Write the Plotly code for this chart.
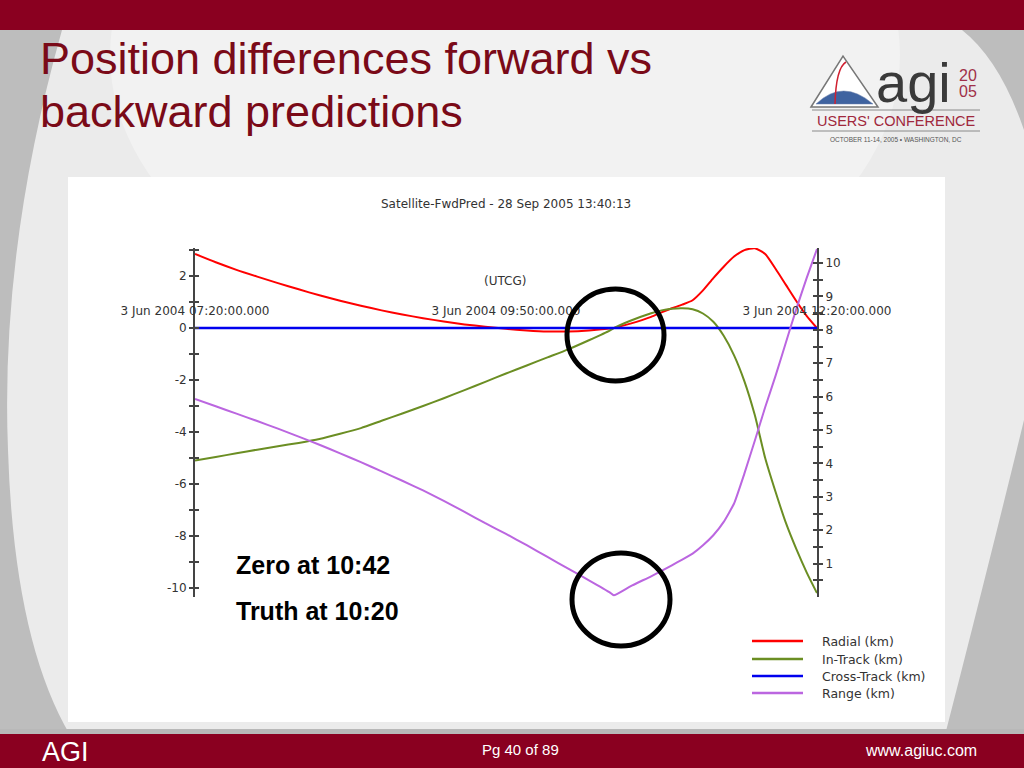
import plotly.graph_objects as go

# ---------------- data ----------------
times = ["2004-06-03 " + t for t in [
    "07:20", "07:30", "07:40", "07:50", "08:00", "08:10", "08:20", "08:30", "08:40", "08:50",
    "09:00", "09:10", "09:20", "09:30", "09:40", "09:50", "10:00", "10:10", "10:20", "10:30",
    "10:40", "10:42", "10:50", "11:00", "11:05", "11:10", "11:15", "11:20", "11:25", "11:30",
    "11:35", "11:40", "11:45", "11:50", "11:55", "12:00", "12:05", "12:10", "12:15", "12:20"]]

radial_km = [2.85, 2.53, 2.24, 1.98, 1.73, 1.49, 1.26, 1.05, 0.86, 0.68,
             0.52, 0.38, 0.25, 0.14, 0.05, -0.03, -0.09, -0.13, -0.13, -0.09,
             -0.02, 0.00, 0.17, 0.43, 0.60, 0.76, 0.90, 1.07, 1.45, 1.92,
             2.36, 2.75, 3.00, 3.07, 2.85, 2.28, 1.66, 1.04, 0.47, 0.00]

intrack_km = [-5.10, -4.96, -4.82, -4.68, -4.55, -4.42, -4.27, -4.07, -3.85, -3.57,
              -3.29, -3.00, -2.70, -2.39, -2.07, -1.75, -1.44, -1.13, -0.82, -0.47,
              -0.10, 0.00, 0.28, 0.57, 0.68, 0.74, 0.76, 0.72, 0.56, 0.24,
              -0.30, -1.05, -2.05, -3.35, -5.00, -6.30, -7.50, -8.50, -9.40, -10.20]

crosstrack_km = [0.0] * len(times)

range_km = [5.93, 5.71, 5.49, 5.27, 5.04, 4.80, 4.56, 4.30, 4.04, 3.76,
            3.48, 3.19, 2.88, 2.55, 2.21, 1.89, 1.55, 1.20, 0.85, 0.50,
            0.14, 0.05, 0.32, 0.62, 0.78, 0.95, 1.12, 1.30, 1.55, 1.85,
            2.25, 2.80, 3.70, 4.68, 5.68, 6.62, 7.62, 8.62, 9.55, 10.42]

series_names = ["Radial (km)", "In-Track (km)", "Cross-Track (km)", "Range (km)"]
series_colors = ["#ff0000", "#6b8e23", "#0000ee", "#bb66e0"]

x_tick_vals = ["2004-06-03 07:20", "2004-06-03 09:50", "2004-06-03 12:20"]
x_tick_text = ["3 Jun 2004 07:20:00.000", "3 Jun 2004 09:50:00.000", "3 Jun 2004 12:20:00.000"]
left_ticks = [-10, -8, -6, -4, -2, 0, 2]
left_tick_text = ["-10", "-8", "-6", "-4", "-2", "0", "2"]
right_ticks = [1, 2, 3, 4, 5, 6, 7, 8, 9, 10]

slide_title_lines = ["Position differences forward vs", "backward predictions"]
chart_title = "Satellite-FwdPred - 28 Sep 2005 13:40:13"

# ---------------- helpers (pixel -> paper) ----------------
W, H = 1024, 768
def X(px):
    return px / W
def Y(py):
    return 1 - py / H
def path(points, close=True):
    s = ""
    for p in points:
        cmd = p[0]
        coords = p[1:]
        s += cmd + " " + " ".join(
            f"{X(coords[j]):.5f},{Y(coords[j+1]):.5f}" for j in range(0, len(coords), 2)) + " "
    return s + ("Z" if close else "")

FONT = "Liberation Sans, Arial, sans-serif"
CFONT = "DejaVu Sans, Verdana, sans-serif"
NARROW = "Liberation Sans Narrow, Liberation Sans, Arial, sans-serif"
DARKRED = "#8a0020"
AXIS = "#444444"
TXT = "#333333"
CSIZE = 12

fig = go.Figure()
data_left = [radial_km, intrack_km, crosstrack_km]
for name, col, vals in zip(series_names[:3], series_colors[:3], data_left):
    fig.add_trace(go.Scatter(x=times, y=vals, name=name, mode="lines", showlegend=False,
                             line=dict(color=col, width=2.5 if name.startswith("Cross") else 2,
                                       shape="spline", smoothing=0.6),
                             yaxis="y"))
fig.add_trace(go.Scatter(x=times, y=range_km, name=series_names[3], mode="lines", showlegend=False,
                         line=dict(color=series_colors[3], width=2, shape="spline", smoothing=0.4),
                         yaxis="y2"))
# empty traces so the tick-overlay axes are rendered
fig.add_trace(go.Scatter(x=[], y=[], yaxis="y3", showlegend=False, hoverinfo="skip"))
fig.add_trace(go.Scatter(x=[], y=[], yaxis="y4", showlegend=False, hoverinfo="skip"))

P = dict(xref="paper", yref="paper")
shapes = []
# background
shapes.append(dict(type="path", layer="below", line_width=0, fillcolor="#ebebeb",
                   path=path([("M", 62, 30), ("Q", 0, 250, 8, 450), ("Q", 14, 640, 70, 735),
                              ("L", 945, 735), ("Q", 990, 560, 1024, 420), ("L", 1024, 130),
                              ("Q", 1000, 60, 962, 30)]), **P))
shapes.append(dict(type="circle", layer="below", line_width=0,
                   fillcolor="rgba(255,255,255,0.35)",
                   x0=X(110), x1=X(900), y0=Y(330), y1=Y(-220), **P))
# top and bottom bands
shapes.append(dict(type="rect", layer="below", line_width=0,
                   fillcolor=DARKRED, x0=0, x1=1, y0=Y(30), y1=1, **P))
shapes.append(dict(type="rect", layer="below", line_width=0,
                   fillcolor="#b8b8b8", x0=0, x1=1, y0=Y(735), y1=Y(729), **P))
shapes.append(dict(type="rect", layer="below", line_width=0,
                   fillcolor=DARKRED, x0=0, x1=1, y0=0, y1=Y(734), **P))
# white chart panel
shapes.append(dict(type="rect", layer="below", line_width=0,
                   fillcolor="#ffffff", x0=X(68), x1=X(945), y0=Y(722), y1=Y(177), **P))
# hand-drawn highlight circles
shapes.append(dict(type="circle", layer="above", line=dict(color="#000000", width=5),
                   x0=X(567), x1=X(664), y0=Y(381), y1=Y(289), **P))
shapes.append(dict(type="circle", layer="above", line=dict(color="#000000", width=5),
                   x0=X(572), x1=X(670), y0=Y(646), y1=Y(553), **P))
# logo graphics
shapes.append(dict(type="path", layer="above", line=dict(color="#777777", width=1.5),
                   fillcolor="#ffffff",
                   path=path([("M", 811, 107), ("L", 843, 56), ("L", 878, 107)]), **P))
shapes.append(dict(type="path", layer="above", line=dict(color="#6a7fa8", width=0.5),
                   fillcolor="#3f63a0",
                   path=path([("M", 816, 104), ("Q", 843, 78, 873, 104)]), **P))
shapes.append(dict(type="path", layer="above", line=dict(color="#d02030", width=1.5),
                   path=path([("M", 835, 104), ("Q", 836, 68, 846, 62)], close=False), **P))
shapes.append(dict(type="line", layer="above", line=dict(color="#8a8a8a", width=1),
                   x0=X(812), x1=X(980), y0=Y(110), y1=Y(110), **P))
shapes.append(dict(type="line", layer="above", line=dict(color="#8a8a8a", width=1),
                   x0=X(812), x1=X(980), y0=Y(131), y1=Y(131), **P))

def ann(text, x, y, size, color, family=FONT, xanchor="center", yanchor="middle", align="left"):
    return dict(text=text, x=X(x), y=Y(y), xanchor=xanchor, yanchor=yanchor, align=align,
                font=dict(family=family, size=size, color=color), showarrow=False, **P)

annotations = [
    ann(slide_title_lines[0], 38, 59, 45, "#7a0a18", xanchor="left"),
    ann(slide_title_lines[1], 38, 111, 45, "#7a0a18", xanchor="left"),
    ann(chart_title, 506, 204, CSIZE, TXT, family=CFONT),
    ann("(UTCG)", 505, 281, CSIZE, TXT, family=CFONT),
    ann("<b>Zero at 10:42</b>", 234, 565, 25, "#000000", xanchor="left"),
    ann("<b>Truth at 10:20</b>", 234, 611, 25, "#000000", xanchor="left"),
    ann("AGI", 40, 752, 27, "#ffffff", family=NARROW, xanchor="left"),
    ann("Pg 40 of 89", 520, 749, 15, "#ffffff", family=NARROW),
    ann("www.agiuc.com", 979, 750, 16, "#ffffff", family=NARROW, xanchor="right"),
    # logo texts
    ann("agi", 874, 82, 56, "#3a3a3a", xanchor="left"),
    ann("20", 968, 75, 16, "#a03048"),
    ann("05", 968, 92, 16, "#a03048"),
    ann("USERS' CONFERENCE", 896, 121, 14.5, "#a0283c"),
    ann("OCTOBER 11-14, 2005 \u2022 WASHINGTON, DC", 896, 140, 6.5, "#555555"),
]

# legend drawn as a key box (line sample + label per series)
legend_rows = [641, 659, 676, 693]
for name, col, ry in zip(series_names, series_colors, legend_rows):
    shapes.append(dict(type="line", layer="above", line=dict(color=col, width=2.5),
                       x0=X(752), x1=X(803), y0=Y(ry), y1=Y(ry), **P))
    annotations.append(ann(name, 820, ry, 12.5, TXT, family=CFONT, xanchor="left"))

ydom = [Y(597), Y(248)]
left_range = [-10.35, 3.08]
right_range = [0, 10.45]
tickfont = dict(family=CFONT, size=CSIZE, color=TXT)

common = dict(showgrid=False, zeroline=False, automargin=False, fixedrange=True)

fig.update_layout(
    width=W, height=H, margin=dict(l=0, r=0, t=0, b=0, pad=0, autoexpand=False),
    paper_bgcolor="#bdbdbd", plot_bgcolor="rgba(0,0,0,0)",
    shapes=shapes, annotations=annotations,
    showlegend=False,
    xaxis=dict(type="date", domain=[X(195), X(817)],
               range=["2004-06-03 07:20", "2004-06-03 12:20"],
               anchor="free", position=Y(328), side="top",
               tickmode="array", tickvals=x_tick_vals, ticktext=x_tick_text,
               ticks="outside", ticklen=8, tickcolor="rgba(0,0,0,0)",
               showline=False, tickfont=tickfont, **common),
    yaxis=dict(domain=ydom, range=left_range, anchor="x", side="left",
               tickmode="array", tickvals=left_ticks, ticktext=left_tick_text,
               ticks="outside", ticklen=4, tickwidth=1.5, tickcolor=AXIS,
               minor=dict(tickmode="linear", tick0=1, dtick=2, ticks="outside",
                          ticklen=4, tickwidth=1.5, tickcolor=AXIS),
               showline=True, linecolor=AXIS, linewidth=2, tickfont=tickfont, **common),
    yaxis2=dict(domain=ydom, range=right_range, anchor="x", side="right", overlaying="y",
                tickmode="array", tickvals=right_ticks,
                ticks="outside", ticklen=4, tickwidth=1.5, tickcolor=AXIS,
                minor=dict(tickmode="linear", tick0=0.5, dtick=1, ticks="outside",
                           ticklen=4, tickwidth=1.5, tickcolor=AXIS),
                showline=True, linecolor=AXIS, linewidth=2, tickfont=tickfont, **common),
    yaxis3=dict(domain=ydom, range=left_range, anchor="x", side="left", overlaying="y",
                tickmode="array", tickvals=left_ticks, showticklabels=False,
                ticks="inside", ticklen=4, tickwidth=1.5, tickcolor=AXIS,
                minor=dict(tickmode="linear", tick0=1, dtick=2, ticks="inside",
                           ticklen=4, tickwidth=1.5, tickcolor=AXIS),
                showline=False, **common),
    yaxis4=dict(domain=ydom, range=right_range, anchor="x", side="right", overlaying="y",
                tickmode="array", tickvals=right_ticks, showticklabels=False,
                ticks="inside", ticklen=4, tickwidth=1.5, tickcolor=AXIS,
                minor=dict(tickmode="linear", tick0=0.5, dtick=1, ticks="inside",
                           ticklen=4, tickwidth=1.5, tickcolor=AXIS),
                showline=False, **common),
)

fig.write_html("out.html", config={"displayModeBar": False},
               post_script="document.body.style.margin='0';document.body.style.overflow='hidden';")
